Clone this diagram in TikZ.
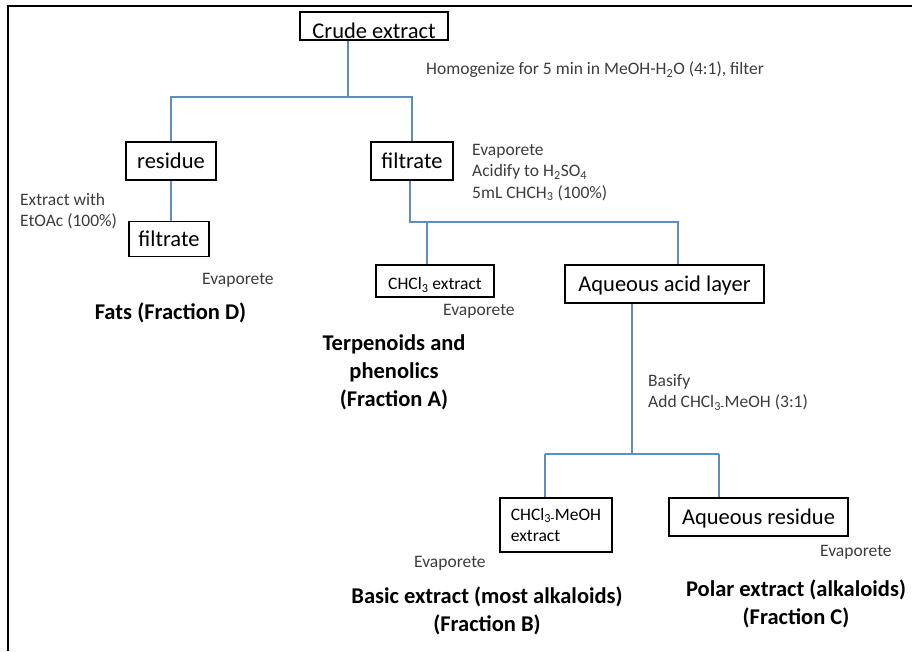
\documentclass[tikz,border=0pt]{standalone}
\usepackage{fontspec}
\setmainfont{Carlito}
\usepackage{tikz}
\usepackage{xcolor}
\definecolor{linkblue}{RGB}{96,140,190}
\definecolor{notegray}{RGB}{60,60,60}

\begin{document}
\begin{tikzpicture}[x=1pt, y=-1pt,
    stepbox/.style={draw=black, line width=1.6pt, inner sep=0pt, text height=15.5pt, text depth=1pt, font=\fontsize{22.5}{27}\selectfont},
    smallbox/.style={stepbox, text height=12.2pt, text depth=1pt, font=\fontsize{17.5}{21.5}\selectfont},
    twobox/.style={draw=black, line width=1.6pt, inner sep=0pt, align=left, font=\fontsize{17.5}{21.5}\selectfont},
    note/.style={text=notegray, inner sep=0pt, align=left, font=\fontsize{17.5}{21.5}\selectfont},
    fraction/.style={inner sep=0pt, align=center, font=\fontsize{22.5}{28}\selectfont\bfseries},
    link/.style={draw=linkblue, line width=1.4pt}]
    \useasboundingbox (0,0) rectangle (912,651);

    % Draw the frame (left and top only)
    \draw[line width=2.5pt] (8,651) -- (8,6) -- (912,6);

    % Boxes of the scheme
    \node[stepbox, text height=25pt, text depth=0pt, minimum width=148pt, minimum height=28pt] (crude) at (374,26) {Crude extract};
    \node[stepbox, minimum width=90pt, minimum height=38pt] (residue) at (171,161) {residue};
    \node[stepbox, minimum width=82pt, minimum height=38pt] (filtR) at (412,161) {filtrate};
    \node[stepbox, minimum width=80pt, minimum height=35pt] (filtL) at (169,239) {filtrate};
    \node[smallbox, text height=17pt, text depth=0pt, minimum width=118pt, minimum height=32pt] (chcl) at (435,281) {CHCl\textsubscript{3} extract};
    \node[stepbox, minimum width=199pt, minimum height=38pt] (aqacid) at (664.5,284) {Aqueous acid layer};
    \node[twobox, minimum width=112pt, minimum height=54pt] (chclmeoh) at (556,525) {CHCl\textsubscript{3-}MeOH\\extract};
    \node[stepbox, minimum width=179pt, minimum height=38pt] (aqres) at (758.5,517) {Aqueous residue};

    % Steps written beside the lines
    \node[note, anchor=west] (homog) at (426,70) {Homogenize for 5 min in MeOH-H\textsubscript{2}O (4:1), filter};
    \node[note, anchor=west] (extrEt) at (20,211) {Extract with\\EtOAc (100\%)};
    \node[note, anchor=west] (evapD) at (202,280) {Evaporete};
    \node[note, anchor=west] (acidify) at (472,172.5) {Evaporete\\Acidify to H\textsubscript{2}SO\textsubscript{4}\\5mL CHCH\textsubscript{3} (100\%)};
    \node[note, anchor=west] (evapA) at (443,311) {Evaporete};
    \node[note, anchor=west] (basify) at (648,392.5) {Basify\\Add CHCl\textsubscript{3-}MeOH (3:1)};
    \node[note, anchor=west] (evapB) at (414,563) {Evaporete};
    \node[note, anchor=west] (evapC) at (820,552) {Evaporete};

    % Fractions
    \node[fraction] (fracD) at (170.5,313) {Fats (Fraction D)};
    \node[fraction] (fracA) at (394,372) {Terpenoids and\\phenolics\\(Fraction A)};
    \node[fraction] (fracB) at (487,611) {Basic extract (most alkaloids)\\(Fraction B)};
    \node[fraction] (fracC) at (796,603.5) {Polar extract (alkaloids)\\(Fraction C)};

    % Branch points
    \coordinate (j1) at (348,97);
    \coordinate (j2) at (410,222);
    \coordinate (j2a) at (427,222);
    \coordinate (j2b) at (678,222);
    \coordinate (j3) at (632,454);
    \coordinate (j3a) at (545,454);
    \coordinate (j3b) at (719,454);

    % Draw the connecting lines
    \draw[link] (crude.south -| j1) -- (j1);
    \draw[link] (residue.north) |- (j1) -| (filtR.north);
    \draw[link] (residue.south) -- (residue.south |- filtL.north);
    \draw[link] (filtR.south -| j2) -- (j2) -- (j2b) -- (aqacid.north -| j2b);
    \draw[link] (j2a) -- (chcl.north -| j2a);
    \draw[link] (aqacid.south -| j3) -- (j3);
    \draw[link] (j3a) -- (j3b);
    \draw[link] (j3a) -- (chclmeoh.north -| j3a);
    \draw[link] (j3b) -- (aqres.north -| j3b);
\end{tikzpicture}
\end{document}
